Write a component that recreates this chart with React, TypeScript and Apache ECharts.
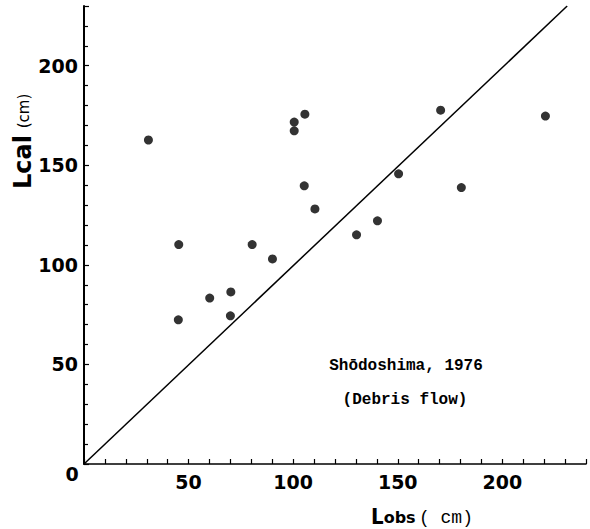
import React, { useEffect, useRef } from "react";
import * as echarts from "echarts";

// Observed length Lobs (cm) and calculated length Lcal (cm)
const lObs = [30.8, 100.5, 100.5, 105.6, 105.3, 110.4, 45.3, 80.4, 90.1, 70.2, 60.1, 45.1, 70.0, 170.5, 220.6, 150.4, 180.4, 140.3, 130.3];
const lCal = [162.7, 171.7, 167.3, 175.7, 139.7, 128.1, 110.2, 110.2, 103.0, 86.4, 83.3, 72.4, 74.4, 177.7, 174.7, 145.7, 138.8, 122.1, 115.1];

// 1:1 reference line
const lineX = [0, 231];
const lineY = [0, 230];

const xTicks = [0, 50, 100, 150, 200];
const yTicks = [0, 50, 100, 150, 200];

const annotation1 = "Shōdoshima, 1976";
const annotation2 = "(Debris flow)";

export default function App() {
  const ref = useRef<HTMLDivElement>(null);
  useEffect(() => {
    if (!ref.current) return;
    const chart = echarts.init(ref.current, null, { renderer: "svg" });
    const labelFont = {
      fontFamily: "DejaVu Sans",
      fontWeight: "bold" as const,
      fontSize: 19,
      color: "#000",
    };
    chart.setOption({
      animation: false,
      backgroundColor: "#fff",
      grid: {
        left: 84,
        right: 4,
        top: 6,
        bottom: 65,
        containLabel: false,
        outerBoundsMode: "none",
      },
      xAxis: {
        type: "value",
        min: 0,
        max: 240,
        interval: 50,
        axisLine: { show: true, onZero: false, lineStyle: { color: "#000", width: 1.6 } },
        axisTick: { show: true, inside: true, length: 5, lineStyle: { color: "#000", width: 1.2 } },
        minorTick: { show: true, splitNumber: 5, length: 5, lineStyle: { color: "#000", width: 1.2 } },
        splitLine: { show: false },
        axisLabel: {
          ...labelFont,
          margin: 8,
          formatter: (v: number) => (xTicks.includes(v) && v !== 0 ? String(v) : ""),
        },
      },
      yAxis: {
        type: "value",
        min: 0,
        max: 230,
        interval: 50,
        axisLine: { show: true, onZero: false, lineStyle: { color: "#000", width: 2 } },
        axisTick: { show: true, inside: true, length: 5, lineStyle: { color: "#000", width: 1.2 } },
        minorTick: { show: true, splitNumber: 5, length: 4, lineStyle: { color: "#000", width: 1.2 } },
        splitLine: { show: false },
        axisLabel: {
          ...labelFont,
          margin: 6,
          formatter: (v: number) => (yTicks.includes(v) && v !== 0 ? String(v) : ""),
        },
      },
      series: [
        {
          type: "line",
          data: lineX.map((x, i) => [x, lineY[i]]),
          showSymbol: false,
          symbol: "none",
          lineStyle: { color: "#000", width: 1.5 },
          silent: true,
        },
        {
          type: "scatter",
          data: lObs.map((x, i) => [x, lCal[i]]),
          symbol: "circle",
          symbolSize: 9,
          itemStyle: { color: "#000" },
        },
      ],
      graphic: [
        {
          type: "text",
          x: 72,
          y: 474,
          style: {
            text: "0",
            fontFamily: "DejaVu Sans",
            fontWeight: "bold",
            fontSize: 19,
            fill: "#000",
            align: "center",
            verticalAlign: "middle",
          },
        },
        {
          type: "text",
          x: 23,
          y: 162,
          rotation: Math.PI / 2,
          style: {
            text: "Lcal",
            fontFamily: "DejaVu Sans",
            fontWeight: "bold",
            fontSize: 24,
            fill: "#000",
            align: "center",
            verticalAlign: "middle",
          },
        },
        {
          type: "text",
          x: 24,
          y: 111,
          rotation: Math.PI / 2,
          style: {
            text: "(cm)",
            fontFamily: "DejaVu Sans",
            fontWeight: "normal",
            fontSize: 15,
            fill: "#000",
            align: "center",
            verticalAlign: "middle",
          },
        },
        {
          type: "text",
          x: 422,
          y: 516,
          style: {
            text: "{a|L}{s|obs} {b|( cm)}",
            fill: "#000",
            align: "center",
            verticalAlign: "middle",
            rich: {
              a: { fontFamily: "DejaVu Sans Condensed, DejaVu Sans", fontWeight: "bold", fontSize: 22, fill: "#000", verticalAlign: "bottom" },
              s: { fontFamily: "DejaVu Sans", fontWeight: "bold", fontSize: 16, fill: "#000", verticalAlign: "bottom", padding: [0, 0, 2, 0] },
              b: { fontFamily: "Liberation Mono", fontWeight: "normal", fontSize: 18, fill: "#000", verticalAlign: "bottom" },
            },
          },
        },
        {
          type: "text",
          x: 406,
          y: 366,
          style: {
            text: annotation1,
            fontFamily: "Liberation Mono",
            fontWeight: "bold",
            fontSize: 16,
            fill: "#000",
            align: "center",
            verticalAlign: "middle",
          },
        },
        {
          type: "text",
          x: 405,
          y: 400,
          style: {
            text: annotation2,
            fontFamily: "Liberation Mono",
            fontWeight: "bold",
            fontSize: 16,
            fill: "#000",
            align: "center",
            verticalAlign: "middle",
          },
        },
      ],
    });
    return () => chart.dispose();
  }, []);
  return (
    <div
      ref={ref}
      style={{ position: "fixed", left: 0, top: 0, width: 590, height: 529, background: "#fff" }}
    />
  );
}
